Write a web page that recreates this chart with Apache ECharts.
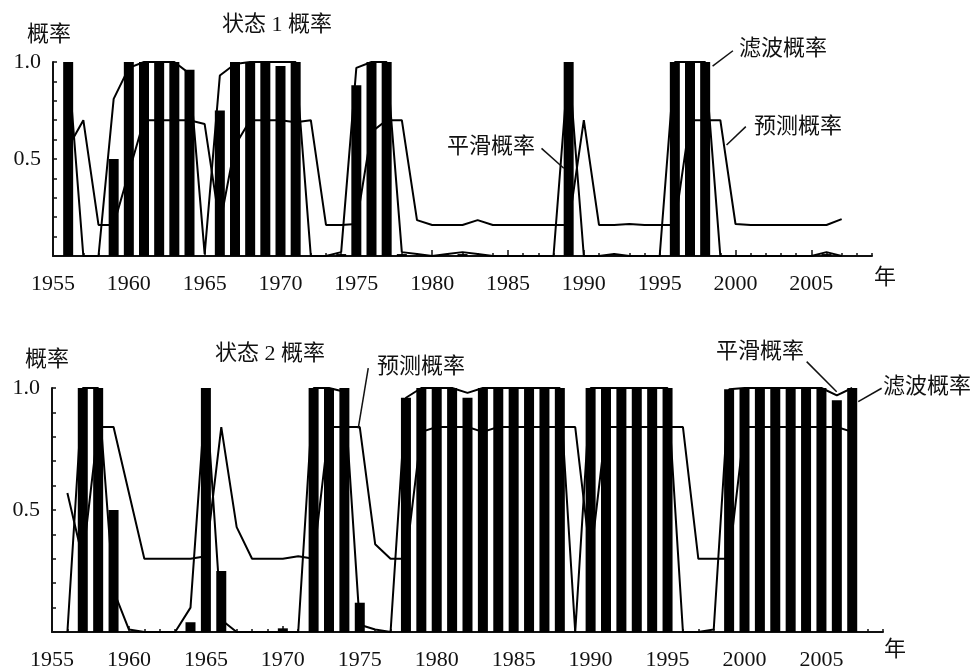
<!DOCTYPE html>
<html><head><meta charset="utf-8">
<script src="https://cdn.jsdelivr.net/npm/echarts@6/dist/echarts.min.js"></script>
<style>html,body{margin:0;padding:0;background:#fff}#c{width:978px;height:668px}</style>
</head><body><div id="c"></div>
<script>
// ---------- data ----------
const years = [1956,1957,1958,1959,1960,1961,1962,1963,1964,1965,
  1966,1967,1968,1969,1970,1971,1972,1973,1974,1975,
  1976,1977,1978,1979,1980,1981,1982,1983,1984,1985,
  1986,1987,1988,1989,1990,1991,1992,1993,1994,1995,
  1996,1997,1998,1999,2000,2001,2002,2003,2004,2005,
  2006,2007];
// state 1
const filter1 = [1.0,0,0,0.5,1.0,1.0,1.0,1.0,0.96,0,
  0.75,1.0,1.0,1.0,0.98,1.0,0,0,0.01,0.88,
  1.0,1.0,0.01,0,0,0,0.01,0,0,0,
  0,0,0,1.0,0,0,0,0,0,0,
  1.0,1.0,1.0,0,0,0,0,0,0,0,
  0.01,0];
const predict1 = [0.56,0.70,0.16,0.16,0.43,0.70,0.70,0.70,0.70,0.68,
  0.16,0.57,0.70,0.70,0.70,0.69,0.70,0.16,0.16,0.165,
  0.64,0.70,0.70,0.185,0.16,0.16,0.16,0.185,0.16,0.16,
  0.16,0.16,0.16,0.16,0.70,0.16,0.16,0.165,0.16,0.16,
  0.16,0.70,0.70,0.70,0.165,0.16,0.16,0.16,0.16,0.16,
  0.16,0.19];
const smooth1 = [1.0,0,0,0.81,0.97,1.0,1.0,1.0,0.94,0.01,
  0.93,0.99,1.0,1.0,1.0,1.0,0,0,0.02,0.97,
  1.0,1.0,0.02,0.01,0,0.01,0.02,0.01,0,0,
  0,0,0,1.0,0,0,0.01,0,0,0,
  1.0,1.0,1.0,0,0,0,0,0,0,0,
  0.02,0];
// state 2
const filter2 = [0,1.0,1.0,0.5,0,0,0,0,0.04,1.0,
  0.25,0,0,0,0.015,0,1.0,1.0,1.0,0.12,
  0,0,0.96,1.0,1.0,1.0,0.96,1.0,1.0,1.0,
  1.0,1.0,1.0,0,1.0,1.0,1.0,1.0,1.0,1.0,
  0,0,0,0.995,1.0,1.0,1.0,1.0,1.0,1.0,
  0.95,1.0];
const predict2 = [0.57,0.30,0.84,0.84,0.57,0.30,0.30,0.30,0.30,0.31,
  0.84,0.43,0.30,0.30,0.30,0.31,0.30,0.84,0.84,0.84,
  0.36,0.30,0.30,0.82,0.84,0.84,0.84,0.82,0.84,0.84,
  0.84,0.84,0.84,0.84,0.30,0.84,0.84,0.84,0.84,0.84,
  0.84,0.30,0.30,0.30,0.84,0.84,0.84,0.84,0.84,0.84,
  0.84,0.82];
const smooth2 = [0,1.0,1.0,0.17,0.01,0,0,0,0.1,0.99,
  0.05,0,0,0,0,0,1.0,1.0,0.985,0.03,
  0.01,0,0.96,1.0,1.0,1.0,0.98,1.0,1.0,1.0,
  1.0,1.0,1.0,0,1.0,1.0,1.0,1.0,1.0,1.0,
  0,0,0.01,0.995,1.0,1.0,1.0,1.0,1.0,1.0,
  0.97,1.0];
const xTickLabels = ['1955','1960','1965','1970','1975','1980','1985','1990','1995','2000','2005'];
const yTickLabels = ['0.5','1.0'];
const titles = ['状态 1 概率','状态 2 概率'];
const yName = '概率';
const xName = '年';
const seriesNames = ['滤波概率','预测概率','平滑概率'];

// ---------- chart ----------
const FONT_NUM = '"Liberation Serif", "Noto Sans CJK SC", serif';
const FONT_TXT = '22px "Liberation Serif", "Noto Sans CJK SC", serif';
const INK = '#111';
const chart = echarts.init(document.getElementById('c'), null, {renderer: 'canvas'});

const pairs = arr => years.map((y, i) => [y, arr[i]]);

function xAxes(gridIndex, margin) {
  return [{
    gridIndex, type: 'value', min: 1955, max: 2009, interval: 5, position: 'bottom',
    axisLine: {show: true, lineStyle: {color: INK, width: 2}},
    axisTick: {show: true, inside: true, length: 6, lineStyle: {color: INK, width: 1.5}},
    axisLabel: {show: true, margin, color: INK, fontSize: 22, fontFamily: FONT_NUM,
      showMaxLabel: false,
      formatter: v => xTickLabels.includes(String(v)) ? String(v) : ''},
    splitLine: {show: false}
  }, {
    gridIndex, type: 'value', min: 1955, max: 2009, interval: 1, position: 'bottom',
    axisLine: {show: false},
    axisTick: {show: true, inside: true, length: 3, lineStyle: {color: INK, width: 1.5}},
    axisLabel: {show: false},
    splitLine: {show: false}
  }];
}
function yAxis(gridIndex) {
  return {
    gridIndex, type: 'value', min: 0, max: 1, interval: 0.1,
    axisLine: {show: true, lineStyle: {color: INK, width: 2}},
    axisTick: {show: true, inside: true, length: 4, lineStyle: {color: INK, width: 1.5}},
    axisLabel: {show: true, margin: 12, color: INK, fontSize: 22, fontFamily: FONT_NUM,
      formatter: v => {
        const s = Number(v).toFixed(1);
        return yTickLabels.includes(s) ? s : '';
      }},
    splitLine: {show: false}
  };
}
function seriesFor(gridIdx, filt, pred, smooth) {
  const xi = gridIdx * 2, yi = gridIdx;
  return [{
    name: seriesNames[0], type: 'bar', xAxisIndex: xi, yAxisIndex: yi,
    data: pairs(filt), barWidth: 10, itemStyle: {color: '#000'}, silent: true, z: 2
  }, {
    name: seriesNames[1], type: 'line', xAxisIndex: xi, yAxisIndex: yi,
    data: pairs(pred), showSymbol: false, symbol: 'none',
    lineStyle: {color: '#000', width: 2}, silent: true, z: 3
  }, {
    name: seriesNames[2], type: 'line', xAxisIndex: xi, yAxisIndex: yi,
    data: pairs(smooth), showSymbol: false, symbol: 'none',
    lineStyle: {color: '#000', width: 2}, silent: true, z: 3
  }];
}

chart.setOption({
  animation: false,
  backgroundColor: '#fff',
  grid: [
    {left: 53, top: 62, width: 819, height: 194, containLabel: false, outerBoundsMode: 'none'},
    {left: 52, top: 388, width: 831, height: 244, containLabel: false, outerBoundsMode: 'none'}
  ],
  xAxis: [...xAxes(0, 17), ...xAxes(1, 17)],
  yAxis: [yAxis(0), yAxis(1)],
  series: [
    ...seriesFor(0, filter1, predict1, smooth1),
    ...seriesFor(1, filter2, predict2, smooth2)
  ]
});

// ---------- annotations ----------
const texts = [
  {t: yName, x: 49, y: 35}, {t: titles[0], x: 277, y: 25},
  {t: seriesNames[0], x: 783, y: 49}, {t: seriesNames[1], x: 798, y: 127},
  {t: seriesNames[2], x: 491, y: 147}, {t: xName, x: 885, y: 278},
  {t: yName, x: 47, y: 360}, {t: titles[1], x: 270, y: 354},
  {t: seriesNames[1], x: 421, y: 367}, {t: seriesNames[2], x: 760, y: 352},
  {t: seriesNames[0], x: 927, y: 387}, {t: xName, x: 895, y: 650}
];
// leader lines in data coordinates: [grid, [x1,y1], [x2,y2]]
const leaders = [
  [0, [1999.83, 1.058], [1998.49, 0.979]],
  [0, [2000.68, 0.667], [1999.41, 0.572]],
  [0, [1987.21, 0.555], [1988.68, 0.452]],
  [1, [1975.55, 1.081], [1974.90, 0.835]],
  [1, [2004.04, 1.108], [2005.99, 0.985]],
  [1, [2008.91, 0.999], [2007.39, 0.944]]
];
const graphic = [];
texts.forEach(o => graphic.push({
  type: 'text', x: o.x, y: o.y, silent: true, z: 10,
  style: {text: o.t, fill: INK, font: FONT_TXT, align: 'center', verticalAlign: 'middle'}
}));
leaders.forEach(([g, a, b]) => {
  const p1 = chart.convertToPixel({gridIndex: g}, a);
  const p2 = chart.convertToPixel({gridIndex: g}, b);
  graphic.push({
    type: 'line', silent: true, z: 10,
    shape: {x1: p1[0], y1: p1[1], x2: p2[0], y2: p2[1]},
    style: {stroke: INK, lineWidth: 1.5}
  });
});
chart.setOption({graphic});
</script>
</body></html>
